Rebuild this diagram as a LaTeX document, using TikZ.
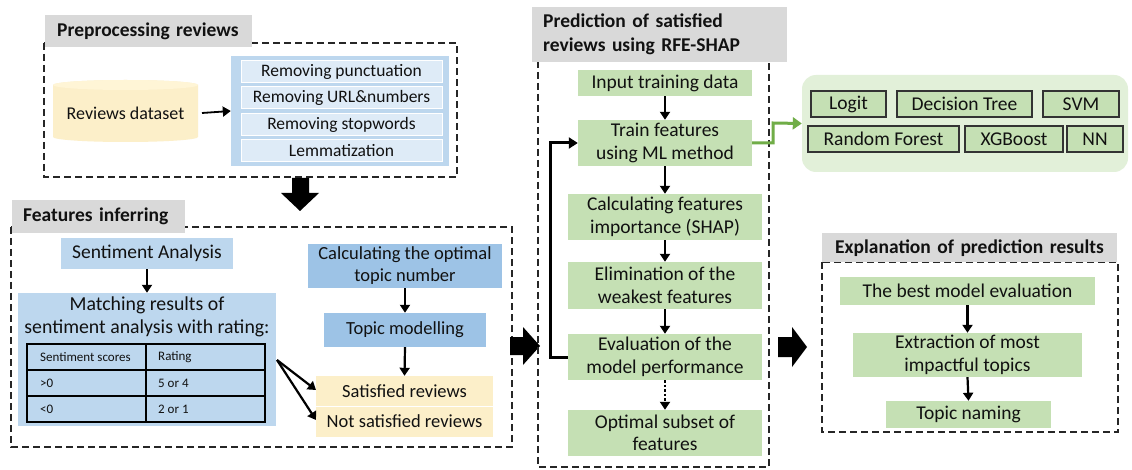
\documentclass[tikz,border=0pt]{standalone}
\usepackage{fontspec}
\setmainfont{Carlito}
\usetikzlibrary{arrows.meta}
\definecolor{greyhead}{HTML}{D9D9D9}
\definecolor{blueL}{HTML}{BDD7EE}
\definecolor{blueXL}{HTML}{DEEBF7}
\definecolor{blueM}{HTML}{9DC3E6}
\definecolor{yel}{HTML}{FCEFC9}
\definecolor{yelL}{HTML}{FFF5D6}
\definecolor{grn}{HTML}{C5E0B4}
\definecolor{grnL}{HTML}{E2F0D9}
\definecolor{grnArrow}{HTML}{70AD47}
\definecolor{txt}{HTML}{111111}
\begin{document}
\begin{tikzpicture}[x=1pt,y=-1pt,
  every node/.style={inner sep=0pt, text=txt},
  body/.style={align=center, font=\fontsize{19.5}{22.5}\selectfont},
  bodymid/.style={align=center, font=\fontsize{18.5}{22}\selectfont},
  stepb/.style={align=center, font=\fontsize{17.5}{20}\selectfont, fill=blueXL, draw=white, line width=1pt},
  blueb/.style={body, fill=blueL},
  bluem/.style={bodymid, fill=blueM},
  yelb/.style={bodymid, fill=yel},
  grnb/.style={body, fill=grn},
  modelb/.style={body, fill=grn, draw=black!80, line width=1.3pt},
  headb/.style={fill=greyhead, anchor=north west, align=left,
    font=\fontsize{19.5}{24}\selectfont\bfseries},
  frame/.style={draw=black!85, line width=1.3pt, dash pattern=on 7pt off 4pt},
  flow/.style={draw=black, line width=2.2pt, -{Triangle[length=8pt,width=10pt]}},
  block/.style={fill=black}
]
\useasboundingbox[fill=white] (0,0) rectangle (1132,470);

% ---------- Preprocessing reviews ----------
\draw[frame] (44,43) rectangle (457,177);
\node[headb, minimum height=32, text width=183, inner xsep=12pt] (t1) at (45,15) {Preprocessing reviews};

\fill[yel] (53,85) -- (53,137) arc[start angle=180, end angle=0, x radius=72.5, y radius=5]
  -- (198,85) arc[start angle=0, end angle=-180, x radius=72.5, y radius=5] -- cycle;
\fill[yelL] (125.5,85) ellipse[x radius=72.5, y radius=5];
\node[bodymid, font=\fontsize{18}{22}\selectfont, minimum width=145, minimum height=50] (ds) at (125.5,113) {Reviews dataset};

\node[fill=blueL, minimum width=218, minimum height=110] (steps) at (340,111) {};
\node[stepb, minimum width=201, minimum height=22] (s1) at (341.5,72) {Removing punctuation};
\node[stepb, minimum width=201, minimum height=22] (s2) at (341.5,98) {Removing URL\&numbers};
\node[stepb, minimum width=201, minimum height=22] (s3) at (341.5,124.5) {Removing stopwords};
\node[stepb, minimum width=201, minimum height=22] (s4) at (341.5,151) {Lemmatization};
\coordinate (dsout) at (202,113);
\draw[flow, line width=1.8pt] (dsout) -- (steps.west);

% big arrow down
\fill[block] (292,178) -- (309,178) -- (309,193) -- (319,193) -- (300,211) -- (281,193) -- (292,193) -- cycle;

% ---------- Features inferring ----------
\draw[frame] (11,227) rectangle (512,447);
\node[headb, minimum height=33, text width=151, inner xsep=11pt] (t2) at (12,200) {Features inferring};

\node[blueb, minimum width=172, minimum height=31] (sa) at (147,253.5) {Sentiment Analysis};
\node[fill=blueL, minimum width=258, minimum height=133] (match) at (147,359.5) {};
\node[align=center, font=\fontsize{19.8}{23}\selectfont] (mtext) at (147,316.5) {Matching results of\\sentiment analysis with rating:};
\draw[flow] (sa.south) -- (match.north);

% rating table
\draw[line width=1.5pt] (27,344) rectangle (265,422);
\draw[line width=1.5pt] (146,344) -- (146,422) (27,370) -- (265,370) (27,396) -- (265,396);
\begin{scope}[every node/.style={inner sep=0pt, text=txt, anchor=west, font=\fontsize{13}{15}\selectfont}]
  \node (c11) at (40,357) {Sentiment scores};
  \node (c12) at (158,357) {Rating};
  \node (c21) at (40,383) {>0};
  \node (c22) at (158,383) {5 or 4};
  \node (c31) at (40,409) {<0};
  \node (c32) at (158,409) {2 or 1};
\end{scope}

\node[bluem, minimum width=194, minimum height=44] (calc) at (405,266) {Calculating the optimal\\topic number};
\node[bluem, minimum width=162, minimum height=34] (tm) at (405,330) {Topic modelling};
\node[yelb, minimum width=177, minimum height=30] (sat) at (404.5,391) {Satisfied reviews};
\node[yelb, minimum width=177, minimum height=31] (nsat) at (404.5,421.5) {Not satisfied reviews};
\draw[white, line width=1pt] (sat.south west) -- (sat.south east);
\draw[flow] (calc.south) -- (tm.north);
\draw[flow] (tm.south) -- (sat.north);
\coordinate (mout) at (277,360);
\draw[flow] (mout) -- (316,390);
\draw[flow] (mout) -- (316,420);

% big arrow right
\fill[block] (510,337) -- (523,337) -- (523,327) -- (540,346) -- (523,365) -- (523,355) -- (510,355) -- cycle;

% ---------- Prediction with RFE-SHAP ----------
\draw[frame] (538,50) rectangle (769,467);
\node[headb, minimum height=55, text width=233, inner xsep=11pt] (t3) at (532,7) {Prediction of satisfied\\reviews using RFE-SHAP};

\node[grnb, minimum width=174, minimum height=26] (inp) at (665,83) {Input training data};
\node[grnb, minimum width=174, minimum height=46] (train) at (665,143) {Train features\\using ML method};
\node[grnb, minimum width=194, minimum height=46] (imp) at (665,217) {Calculating features\\importance (SHAP)};
\node[grnb, minimum width=194, minimum height=47] (elim) at (665,285.5) {Elimination of the\\weakest features};
\node[grnb, minimum width=194, minimum height=46] (eval) at (665,357) {Evaluation of the\\model performance};
\node[grnb, minimum width=194, minimum height=46] (opt) at (665,433) {Optimal subset of\\features};
\draw[flow] (inp.south) -- (train.north);
\draw[flow] (train.south) -- (imp.north);
\draw[flow] (imp.south) -- (elim.north);
\draw[flow] (elim.south) -- (eval.north);
\draw[flow, dash pattern=on 2.5pt off 2pt] (eval.south) -- (opt.north);
\draw[draw=black, line width=3pt, -{Triangle[length=9pt,width=11pt]}]
  (eval.west) -- (550,357) -- (550,143) -- (train.west);

% ---------- ML methods ----------
\node[fill=grnL, rounded corners=14pt, minimum width=326, minimum height=97] (models) at (965,123.5) {};
\draw[draw=grnArrow, line width=3pt, -{Triangle[length=9pt,width=12pt]}]
  (train.east) -- (773,143) -- (773,123) -- (models.west);
\node[modelb, minimum width=75, minimum height=26] (m1) at (848.5,104) {Logit};
\node[modelb, minimum width=135, minimum height=26] (m2) at (964.5,104) {Decision Tree};
\node[modelb, minimum width=76, minimum height=26] (m3) at (1081,104) {SVM};
\node[modelb, minimum width=151, minimum height=26] (m4) at (883.5,139) {Random Forest};
\node[modelb, minimum width=98, minimum height=26] (m5) at (1014,139) {XGBoost};
\node[modelb, minimum width=56, minimum height=26] (m6) at (1095,139) {NN};

% big arrow right
\fill[block] (778,337) -- (792,337) -- (792,327) -- (807,347) -- (792,367) -- (792,357) -- (778,357) -- cycle;

% ---------- Explanation of prediction results ----------
\draw[frame] (822,262) rectangle (1118,432);
\node[headb, minimum height=29, text width=269, inner xsep=13pt] (t4) at (822,233) {Explanation of prediction results};
\node[grnb, minimum width=255, minimum height=28] (best) at (967.5,291) {The best model evaluation};
\node[grnb, minimum width=229, minimum height=44] (extr) at (967.5,355) {Extraction of most\\impactful topics};
\node[grnb, minimum width=165, minimum height=27] (name) at (968.5,414.5) {Topic naming};
\draw[flow] (best.south) -- (extr.north);
\draw[flow] (extr.south) -- (name.north);
\end{tikzpicture}
\end{document}
